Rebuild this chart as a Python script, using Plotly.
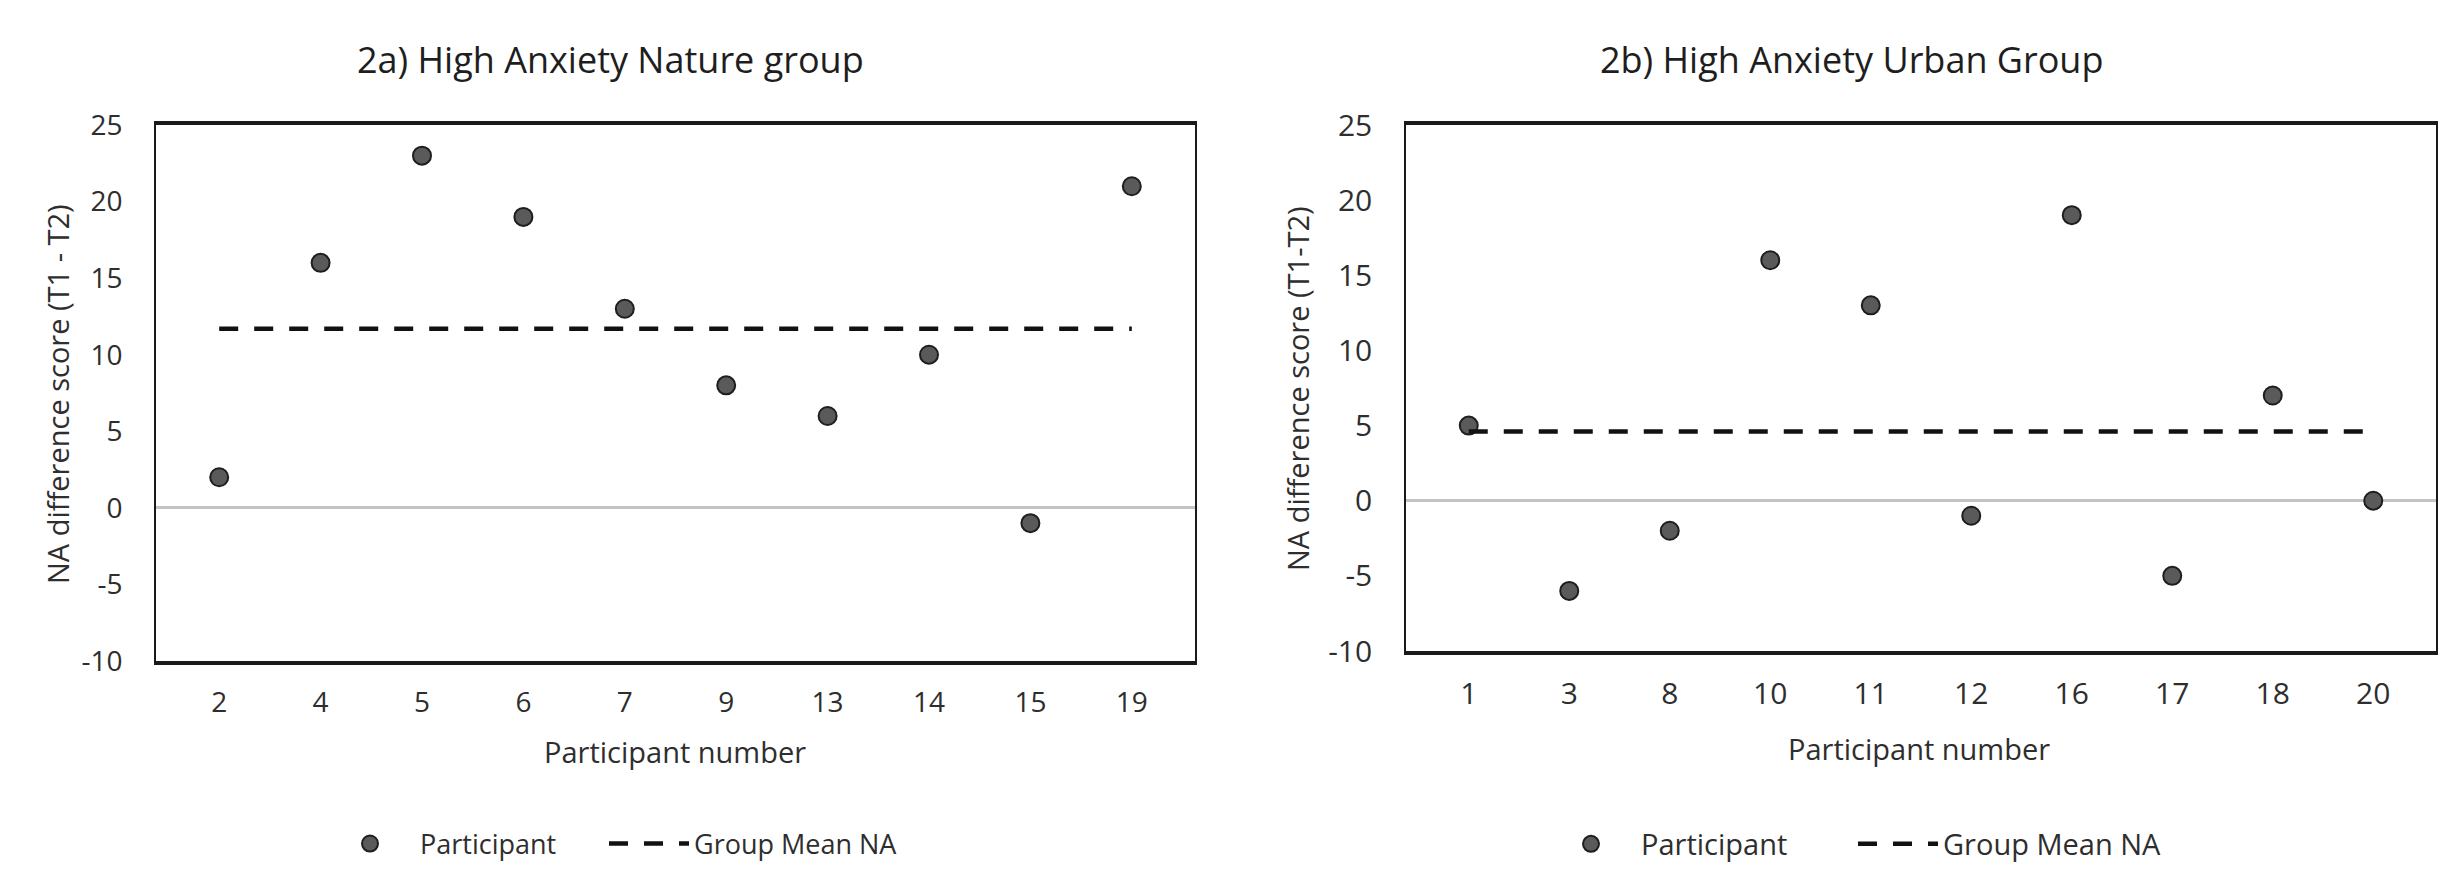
import plotly.graph_objects as go

# ---------------- data ----------------
nature_ids = ["2", "4", "5", "6", "7", "9", "13", "14", "15", "19"]
nature_vals = [2, 16, 23, 19, 13, 8, 6, 10, -1, 21]
nature_mean = 11.7

urban_ids = ["1", "3", "8", "10", "11", "12", "16", "17", "18", "20"]
urban_vals = [5, -6, -2, 16, 13, -1, 19, -5, 7, 0]
urban_mean = 4.6

y_ticks = [-10, -5, 0, 5, 10, 15, 20, 25]

title_a = "2a) High Anxiety Nature group"
title_b = "2b) High Anxiety Urban Group"
ytitle_a = "NA difference score (T1 - T2)"
ytitle_b = "NA difference score (T1-T2)"
xtitle = "Participant number"

# ---------------- styling ----------------
W, H = 2453, 870
FONT = "Open Sans"
TXT = "#2e2e2e"
MARK_FILL = "#5a5a5a"
MARK_LINE = "#1e1e1e"

marker = dict(size=18, color=MARK_FILL, line=dict(color=MARK_LINE, width=2))
dash_line = dict(color="#111111", width=4.5, dash="19px,16px")

fig = go.Figure()

fig.add_trace(go.Scatter(x=nature_ids, y=nature_vals, mode="markers", marker=marker,
                         name="Participant", xaxis="x", yaxis="y", legend="legend"))
fig.add_trace(go.Scatter(x=[nature_ids[0], nature_ids[-1]], y=[nature_mean, nature_mean],
                         mode="lines", line=dash_line, name="Group Mean NA",
                         xaxis="x", yaxis="y", legend="legend2"))
fig.add_trace(go.Scatter(x=urban_ids, y=urban_vals, mode="markers", marker=marker,
                         name="Participant", xaxis="x2", yaxis="y2", legend="legend3"))
fig.add_trace(go.Scatter(x=[urban_ids[0], urban_ids[-1]], y=[urban_mean, urban_mean],
                         mode="lines", line=dash_line, name="Group Mean NA",
                         xaxis="x2", yaxis="y2", legend="legend4"))


def xax(domain, anchor, cats, fs):
    return dict(domain=domain, anchor=anchor, type="category",
                categoryorder="array", categoryarray=cats,
                showline=True, linewidth=4, linecolor="#1a1a1a", mirror=True,
                showgrid=False, zeroline=False, ticks="",
                tickfont=dict(family=FONT, size=fs, color=TXT),
                ticklabelstandoff=13, automargin=False, fixedrange=True)


def yax(domain, anchor, fs):
    return dict(domain=domain, anchor=anchor, range=[-10, 25],
                tickmode="array", tickvals=y_ticks, ticktext=[str(v) for v in y_ticks],
                showline=True, linewidth=1.6, linecolor="#1a1a1a", mirror=True,
                showgrid=False, zeroline=True, zerolinecolor="#c4c4c4", zerolinewidth=2.5,
                ticks="", tickfont=dict(family=FONT, size=fs, color=TXT),
                ticklabelstandoff=26, automargin=False, fixedrange=True)


def px(v):
    return v / W


def py(v):
    return 1 - v / H


def leg(x0, iw, fs):
    return dict(x=px(x0), y=py(836), xanchor="left", yanchor="middle",
                orientation="h", font=dict(family=FONT, size=fs, color=TXT), itemwidth=iw,
                bgcolor="rgba(0,0,0,0)", borderwidth=0)


ann_common = dict(xref="paper", yref="paper", showarrow=False)

fig.update_layout(
    width=W, height=H,
    margin=dict(l=0, r=0, t=0, b=0),
    template="none",
    paper_bgcolor="white", plot_bgcolor="white",
    font=dict(family=FONT, color=TXT),
    showlegend=True,
    xaxis=xax([px(148), px(1187)], "y", nature_ids, 28),
    yaxis=yax([py(653), py(117)], "x", 28),
    xaxis2=xax([px(1398), px(2428)], "y2", urban_ids, 30),
    yaxis2=yax([py(643), py(117)], "x2", 30),
    legend=leg(312, 90, 27),
    legend2=leg(596, 80, 27),
    legend3=leg(1533, 90, 29),
    legend4=leg(1845, 80, 29),
    annotations=[
        dict(text=title_a, x=px(602), y=py(52), xanchor="center", yanchor="middle",
             font=dict(family=FONT, size=36, color="#1e1e1e"), **ann_common),
        dict(text=title_b, x=px(1843), y=py(52), xanchor="center", yanchor="middle",
             font=dict(family=FONT, size=36, color="#1e1e1e"), **ann_common),
        dict(text=ytitle_a, x=px(50), y=py(386), xanchor="center", yanchor="middle",
             textangle=-90, font=dict(family=FONT, size=29, color=TXT), **ann_common),
        dict(text=ytitle_b, x=px(1289), y=py(381), xanchor="center", yanchor="middle",
             textangle=-90, font=dict(family=FONT, size=29, color=TXT), **ann_common),
        dict(text=xtitle, x=px(667), y=py(743), xanchor="center", yanchor="middle",
             font=dict(family=FONT, size=29, color=TXT), **ann_common),
        dict(text=xtitle, x=px(1911), y=py(740), xanchor="center", yanchor="middle",
             font=dict(family=FONT, size=29, color=TXT), **ann_common),
    ],
)

fig.write_html("out.html")
